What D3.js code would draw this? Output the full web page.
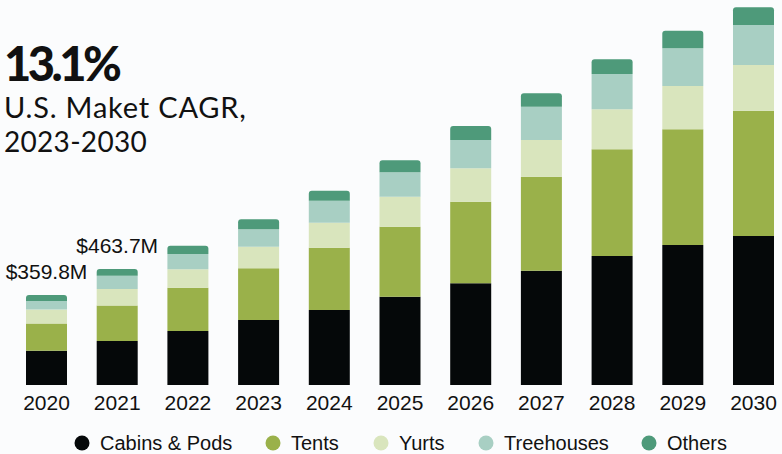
<!DOCTYPE html>
<html>
<head>
<meta charset="utf-8">
<script src="https://cdn.jsdelivr.net/npm/d3@7"></script>
<style>
  html, body { margin: 0; padding: 0; background: #fbfcfd; }
  svg { display: block; }
</style>
</head>
<body>
<svg id="chart" width="782" height="454"></svg>
<script>
// values in USD million
var years = ['2020','2021','2022','2023','2024','2025','2026','2027','2028','2029','2030'];
var seriesNames = ['Cabins & Pods','Tents','Yurts','Treehouses','Others'];
var seriesColors = ['#050809','#9ab14a','#d9e5bd','#a8cfc3','#4e9a7a'];

var cabins     = [137.0, 176.1, 216, 260, 300, 353, 407, 457, 516, 560, 596];
var tents      = [108.9, 141.9, 173, 207, 249, 280, 326, 376, 427, 463, 501];
var yurts      = [56.4,  66.4,  74,  86,  100, 120, 134, 147, 160, 173, 183];
var treehouses = [33.4,  52.9,  61,  70,  88,  98,  113, 133, 141, 151, 160];
var others     = [24.1,  26.4,  33,  40,  40,  48,  56,  54,  59,  70,  71];

var valueLabels = {'2020':'$359.8M', '2021':'$463.7M'};

var rows = years.map(function(y, i){
  return {year:y, 'Cabins & Pods':cabins[i], 'Tents':tents[i], 'Yurts':yurts[i],
          'Treehouses':treehouses[i], 'Others':others[i]};
});

var svg = d3.select('#chart');
var labelFont = '"Liberation Sans", Arial, sans-serif';

var x = d3.scaleBand()
  .domain(years)
  .range([26, 774])
  .paddingInner(0.42)
  .paddingOuter(0);

var y = d3.scaleLinear()
  .domain([0, 1500])
  .range([385, 10]);

var color = d3.scaleOrdinal().domain(seriesNames).range(seriesColors);

var stacked = d3.stack().keys(seriesNames)(rows);

// rect with rounded top corners only
function topRounded(x0, y0, w, h, r){
  r = Math.min(r, h);
  return 'M' + x0 + ',' + (y0 + h) +
    'V' + (y0 + r) +
    'Q' + x0 + ',' + y0 + ' ' + (x0 + r) + ',' + y0 +
    'H' + (x0 + w - r) +
    'Q' + (x0 + w) + ',' + y0 + ' ' + (x0 + w) + ',' + (y0 + r) +
    'V' + (y0 + h) + 'Z';
}

var layers = svg.append('g')
  .selectAll('g.layer')
  .data(stacked)
  .enter()
  .append('g').attr('class','layer')
  .attr('fill', function(d){ return color(d.key); });

layers.each(function(layer, li){
  var last = li === stacked.length - 1;
  d3.select(this).selectAll('path')
    .data(layer)
    .enter()
    .append('path')
    .attr('d', function(d){
      var x0 = x(d.data.year), w = x.bandwidth();
      var yTop = y(d[1]), h = y(d[0]) - y(d[1]);
      return topRounded(x0, yTop, w, h, last ? 3 : 0);
    });
});

// value labels over first two bars
svg.append('g')
  .selectAll('text')
  .data(rows.filter(function(d){ return valueLabels[d.year]; }))
  .enter()
  .append('text')
  .attr('x', function(d){ return x(d.year) + x.bandwidth()/2; })
  .attr('y', function(d){
    var total = seriesNames.reduce(function(s,k){ return s + d[k]; }, 0);
    return y(total) - 16;
  })
  .attr('text-anchor','middle')
  .attr('font-family', labelFont)
  .attr('font-size', 21)
  .attr('fill','#111')
  .text(function(d){ return valueLabels[d.year]; });

// x axis labels
var xAxis = d3.axisBottom(x).tickSize(0).tickPadding(10);
var gx = svg.append('g')
  .attr('transform','translate(0,385)')
  .call(xAxis);
gx.select('.domain').remove();
gx.selectAll('text')
  .attr('font-family', labelFont)
  .attr('font-size', 21)
  .attr('fill','#111');

// headline
var head = svg.append('g').attr('fill','#111').attr('font-family','Lato, "Open Sans", sans-serif');
head.append('text')
  .attr('x', 4).attr('y', 81)
  .attr('font-size', 47).attr('font-weight', 900)
  .attr('letter-spacing', -3.5)
  .text('13.1%');
head.append('text')
  .attr('x', 4).attr('y', 118)
  .attr('font-size', 29)
  .attr('letter-spacing', 0.8)
  .text('U.S. Maket CAGR,');
head.append('text')
  .attr('x', 4).attr('y', 152)
  .attr('font-size', 28)
  .attr('letter-spacing', 0.3)
  .text('2023-2030');

// legend
var legendX = [82, 273, 381, 486, 649];
var legend = svg.append('g')
  .selectAll('g')
  .data(seriesNames)
  .enter()
  .append('g')
  .attr('transform', function(d, i){ return 'translate(' + legendX[i] + ',443)'; });
legend.append('circle')
  .attr('r', 7.5)
  .attr('fill', function(d){ return color(d); });
legend.append('text')
  .attr('x', 18).attr('y', 7)
  .attr('font-family', labelFont)
  .attr('font-size', 20)
  .attr('fill','#111')
  .text(function(d){ return d; });
</script>
</body>
</html>
